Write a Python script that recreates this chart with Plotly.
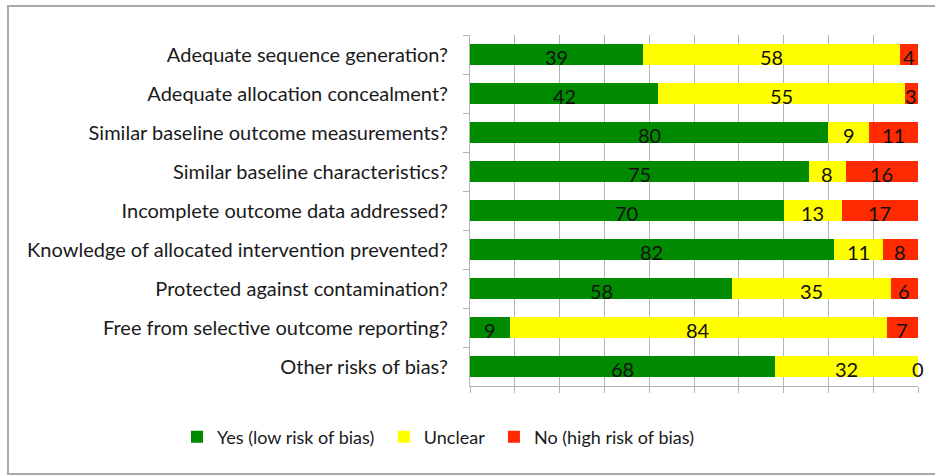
import plotly.graph_objects as go

# Risk-of-bias domains (top to bottom) and the share of studies in each judgement
domains = [
    "Adequate sequence generation?",
    "Adequate allocation concealment?",
    "Similar baseline outcome measurements?",
    "Similar baseline characteristics?",
    "Incomplete outcome data addressed?",
    "Knowledge of allocated intervention prevented?",
    "Protected against contamination?",
    "Free from selective outcome reporting?",
    "Other risks of bias?",
]
yes_low = [39, 42, 80, 75, 70, 82, 58, 9, 68]
unclear = [58, 55, 9, 8, 13, 11, 35, 84, 32]
no_high = [4, 3, 11, 16, 17, 8, 6, 7, 0]

series_names = ["Yes (low risk of bias)", "Unclear", "No (high risk of bias)"]
series_values = [yes_low, unclear, no_high]
series_colors = ["#008a00", "#ffff00", "#ff2a00"]

FONT = "Lato"
W, H = 935, 475
ML, MR, MT, MB = 470, 17, 35, 89

fig = go.Figure()
# non-breaking padding widens the gaps between legend entries
pads = ["\u00a0", "\u00a0", ""]
for name, vals, col, pad in zip(series_names, series_values, series_colors, pads):
    fig.add_trace(go.Bar(
        y=domains, x=vals, name=name + pad, orientation="h",
        marker=dict(color=col, line=dict(width=0)),
        hoverinfo="x+y+name",
    ))

# value labels centred on each (row-normalised) segment
annotations = []
for i, d in enumerate(domains):
    row = [v[i] for v in series_values]
    total = sum(row)
    start = 0.0
    for v in row:
        w = 100.0 * v / total
        annotations.append(dict(
            x=start + w / 2, y=d, xref="x", yref="y", text=str(v),
            showarrow=False, yshift=-2,
            font=dict(family=FONT, size=20, color="#111111"),
        ))
        start += w

# pixel -> paper conversion for items placed outside the plot area
pw, ph = W - ML - MR, H - MT - MB
def px_to_paper_x(px):
    return (px - ML) / pw
def px_to_paper_y(py):
    return (H - MB - py) / ph

# outer frame around the whole chart
shapes = [dict(
    type="rect", xref="paper", yref="paper",
    x0=px_to_paper_x(8), x1=px_to_paper_x(940),
    y0=px_to_paper_y(474), y1=px_to_paper_y(6),
    line=dict(color="#a8a8a8", width=2), layer="below",
)]

fig.update_layout(
    width=W, height=H,
    barmode="stack", barnorm="percent", bargap=0.44,
    margin=dict(l=ML, r=MR, t=MT, b=MB, pad=0),
    paper_bgcolor="white", plot_bgcolor="white",
    font=dict(family=FONT, size=20, color="#1a1a1a"),
    showlegend=True,
    legend=dict(
        orientation="h", xref="paper", yref="paper",
        x=px_to_paper_x(177), y=px_to_paper_y(437),
        xanchor="left", yanchor="middle",
        bgcolor="rgba(0,0,0,0)", borderwidth=0,
        font=dict(family=FONT, size=18, color="#1a1a1a"),
        itemwidth=30, traceorder="normal",
    ),
    annotations=annotations,
    shapes=shapes,
)
fig.update_xaxes(
    range=[0, 100], dtick=10, showticklabels=False,
    showgrid=True, gridcolor="#b4b4b4", gridwidth=1,
    showline=True, linecolor="#b4b4b4", linewidth=1,
    ticks="outside", ticklen=6, tickcolor="#b4b4b4",
    zeroline=False, fixedrange=True,
)
fig.update_yaxes(
    autorange="reversed", type="category",
    showline=True, linecolor="#b4b4b4", linewidth=1,
    ticks="outside", tickson="boundaries", ticklen=6, tickcolor="#b4b4b4",
    showgrid=False, ticklabelstandoff=17,
    tickfont=dict(family=FONT, size=20, color="#1a1a1a"),
)

fig.write_html("out.html")
